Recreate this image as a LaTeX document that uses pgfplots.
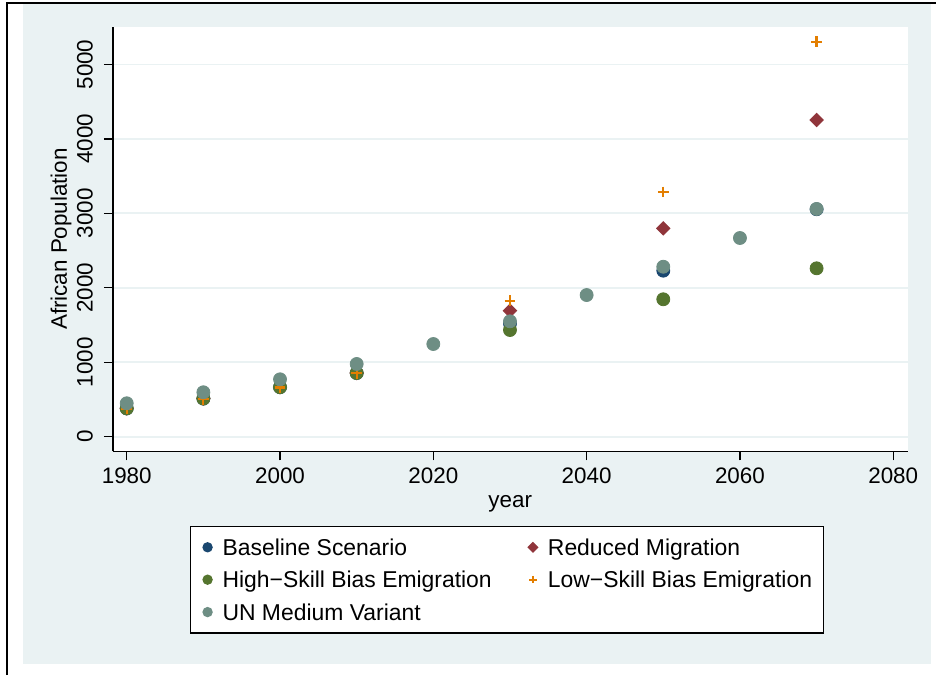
\documentclass[border=0pt]{standalone}
\usepackage{pgfplots}
\pgfplotsset{compat=1.18}
\usepackage{fontspec}
\setmainfont{Liberation Sans}
\definecolor{stbg}{HTML}{EAF2F3}
\definecolor{stnavy}{HTML}{1A476F}
\definecolor{stmaroon}{HTML}{90353B}
\definecolor{stgreen}{HTML}{55752F}
\definecolor{storange}{HTML}{E37E00}
\definecolor{stteal}{HTML}{6E8E84}
\newcommand{\f}{\fontsize{11.2}{13.4}\selectfont}
\newcommand{\fl}{\fontsize{11.45}{13.6}\selectfont}
\begin{document}
\begin{tikzpicture}
\useasboundingbox (0,0) rectangle (468pt,337.5pt);
\fill[white] (0,0) rectangle (468pt,337.5pt);
\fill[stbg] (11.35pt,5.5pt) rectangle (465.5pt,335.5pt);
\draw[black,line width=0.8pt] (3.5pt,0pt) -- (3.5pt,335.85pt) -- (468pt,335.85pt);
\begin{axis}[
  at={(56.5pt,111.85pt)}, anchor=south west,
  scale only axis, width=397.25pt, height=212.3pt,
  xmin=1978.21, xmax=2081.86, ymin=-196, ymax=5507,
  axis x line*=bottom, axis y line*=left,
  axis line style={line width=0.75pt, -},
  axis background/.style={fill=white},
  xtick={1980,2000,...,2080}, ytick={0,1000,...,5000},
  ymajorgrids, major grid style={stbg, line width=0.9pt},
  tick align=outside, major tick length=4.5pt,
  tick style={black, line width=0.6pt},
  /pgf/number format/assume math mode=true,
  /pgf/number format/1000 sep={},
  tick label style={font=\f},
  yticklabel style={xshift=-2pt, rotate=90, anchor=south},
  xlabel={year}, ylabel={African Population},
  label style={font=\f},
  xlabel style={at={(axis description cs:0.5,-0.1335)}, anchor=base},
  ylabel style={at={(axis description cs:-0.0579,0.5)}, anchor=base},
  legend style={at={(axis description cs:0.0969,-0.1752)}, anchor=north west,
    draw=black, line width=0.6pt, fill=white, font=\fl,
    inner xsep=3.7pt, inner ysep=2.4pt,
    nodes={text height=9.4pt, text depth=1.2pt, inner ysep=2.8pt},
    /tikz/every even column/.append style={column sep=13.8pt}},
  legend cell align=left, legend columns=2,
  legend image code/.code={\path[draw=none,fill=none] (0pt,-1pt) rectangle (10.3pt,1pt);\draw[mark repeat=2,mark phase=2,#1,every mark/.append style={scale=0.7}] plot coordinates {(0pt,0pt)(4.8pt,0pt)(10.3pt,0pt)};},
]
\addplot[only marks, mark=*, mark size=3.25pt, color=stnavy] coordinates {
(1980,380) (1990,512) (2000,665) (2010,855) (2030,1520) (2050,2230) (2070,3055)};
\addlegendentry{Baseline Scenario}
\addplot[only marks, mark=square*, mark size=2.37pt, mark options={rotate=45}, color=stmaroon] coordinates {
(1980,380) (1990,512) (2000,665) (2010,855) (2030,1692) (2050,2799) (2070,4254)};
\addlegendentry{Reduced Migration}
\addplot[only marks, mark=*, mark size=3.25pt, color=stgreen] coordinates {
(1980,380) (1990,512) (2000,665) (2010,855) (2030,1433) (2050,1846) (2070,2262)};
\addlegendentry{High−Skill Bias Emigration}
\addplot[only marks, mark=+, mark size=2.7pt, mark options={line width=1.1pt}, color=storange] coordinates {
(1980,375) (1990,505) (2000,660) (2010,852) (2030,1827) (2050,3287) (2070,5306)};
\addlegendentry{Low−Skill Bias Emigration}
\addplot[only marks, mark=*, mark size=3.25pt, color=stteal] coordinates {
(1980,449) (1990,597) (2000,771) (2010,977) (2020,1245) (2030,1550) (2040,1903) (2050,2283) (2060,2669) (2070,3059)};
\addlegendentry{UN Medium Variant}
\end{axis}
\end{tikzpicture}
\end{document}
